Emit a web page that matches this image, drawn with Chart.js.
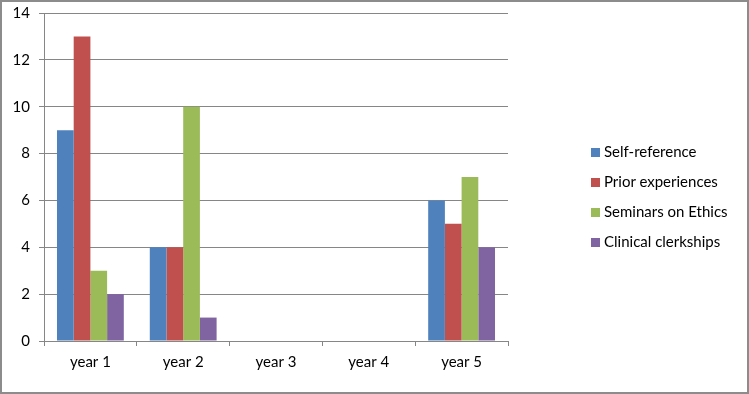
<!DOCTYPE html>
<html lang="en">
<head>
    <meta charset="utf-8"/>
    <title>Reasons by year</title>
    <script src="https://cdn.jsdelivr.net/npm/chart.js"></script>
    <style>
        html, body { margin: 0; padding: 0; background: #fff; }
        #wrap {
            position: relative;
            width: 749px;
            height: 394px;
            box-sizing: border-box;
            border: 2px solid #8c8c8c;
        }
        #chart { position: absolute; left: -2px; top: -2px; }
        #legend {
            position: absolute;
            left: 589px;
            top: 138px;
            font-family: Lato, "Liberation Sans", sans-serif;
            font-size: 15px;
            color: #000;
        }
        #legend div { height: 30px; line-height: 22px; white-space: nowrap; }
        #legend span.box {
            display: inline-block;
            width: 9px;
            height: 9px;
            margin-right: 4px;
            vertical-align: 0px;
        }
    </style>
</head>
<body>
<div id="wrap">
    <canvas id="chart" width="749" height="394"></canvas>
    <div id="legend"></div>
</div>
<script>
    // data
    const categories = ['year 1', 'year 2', 'year 3', 'year 4', 'year 5'];
    const seriesNames = ['Self-reference', 'Prior experiences', 'Seminars on Ethics', 'Clinical clerkships'];
    const selfReference = [9, 4, 0, 0, 6];
    const priorExperiences = [13, 4, 0, 0, 5];
    const seminarsOnEthics = [3, 10, 0, 0, 7];
    const clinicalClerkships = [2, 1, 0, 0, 4];
    const yTicks = [0, 2, 4, 6, 8, 10, 12, 14];

    const colors = ['#4f81bd', '#c0504d', '#9bbb59', '#8064a2'];
    const values = [selfReference, priorExperiences, seminarsOnEthics, clinicalClerkships];

    const font = { family: 'Lato, "Liberation Sans", sans-serif', size: 15 };

    new Chart(document.getElementById('chart'), {
        type: 'bar',
        data: {
            labels: categories,
            datasets: seriesNames.map((name, i) => ({
                label: name,
                data: values[i],
                backgroundColor: colors[i],
                borderWidth: 0,
                categoryPercentage: 0.72,
                barPercentage: 1.0
            }))
        },
        options: {
            responsive: false,
            animation: false,
            layout: { padding: { left: 0, right: 241, top: 13, bottom: 0 } },
            plugins: { legend: { display: false }, tooltip: { enabled: false } },
            scales: {
                x: {
                    grid: {
                        drawOnChartArea: false,
                        drawTicks: true,
                        tickLength: 5,
                        color: '#868686'
                    },
                    border: { color: '#868686' },
                    ticks: { font: font, color: '#000', padding: 7 },
                    afterFit: s => { s.height = 53; s.paddingLeft = 0; s.paddingRight = 0; }
                },
                y: {
                    min: 0,
                    max: 14,
                    afterBuildTicks: s => { s.ticks = yTicks.map(v => ({ value: v })); },
                    grid: { color: '#868686', tickLength: 5 },
                    border: { color: '#868686' },
                    ticks: { font: font, color: '#000', padding: 9 },
                    afterFit: s => { s.width = 44; s.paddingTop = 0; s.paddingBottom = 0; }
                }
            }
        }
    });

    const legend = document.getElementById('legend');
    seriesNames.forEach((name, i) => {
        const row = document.createElement('div');
        row.innerHTML = '<span class="box" style="background:' + colors[i] + '"></span>' + name;
        legend.appendChild(row);
    });
</script>
</body>
</html>
